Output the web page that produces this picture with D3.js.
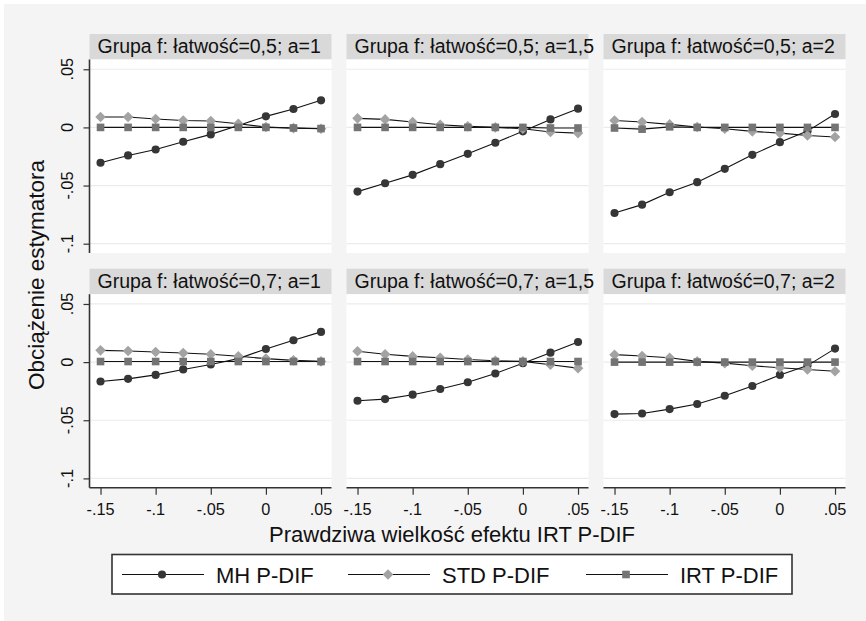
<!DOCTYPE html>
<html>
<head>
<meta charset="utf-8">
<script src="https://cdn.jsdelivr.net/npm/d3@7"></script>
<style>
  body { margin: 0; background: #fff; }
  svg { display: block; font-family: "Liberation Sans", Arial, sans-serif; }
</style>
</head>
<body>
<svg id="chart" width="866" height="621"></svg>
<script>
// values
const xValues = [-0.15, -0.125, -0.1, -0.075, -0.05, -0.025, 0, 0.025, 0.05];
const xTicks = [-0.15, -0.1, -0.05, 0, 0.05];
const xTickLabels = ['-.15', '-.1', '-.05', '0', '.05'];
const yTicks = [0.05, 0, -0.05, -0.1];
const yTickLabels = ['.05', '0', '-.05', '-.1'];

const panelTitles = [
    'Grupa f: łatwość=0,5; a=1',
    'Grupa f: łatwość=0,5; a=1,5',
    'Grupa f: łatwość=0,5; a=2',
    'Grupa f: łatwość=0,7; a=1',
    'Grupa f: łatwość=0,7; a=1,5',
    'Grupa f: łatwość=0,7; a=2'
];

const mhDIF = [
    [-0.0304, -0.0241, -0.019, -0.0123, -0.006, 0.0017, 0.0095, 0.0158, 0.0233],
    [-0.0552, -0.048, -0.0408, -0.0316, -0.0227, -0.0132, -0.0034, 0.0069, 0.0161],
    [-0.0736, -0.0664, -0.0558, -0.0471, -0.0356, -0.0236, -0.0127, -0.0032, 0.0115],
    [-0.0167, -0.0144, -0.011, -0.0063, -0.002, 0.003, 0.0113, 0.0188, 0.026],
    [-0.0332, -0.0318, -0.028, -0.0231, -0.0173, -0.0098, -0.0009, 0.0081, 0.0173],
    [-0.0447, -0.0442, -0.0404, -0.036, -0.0289, -0.0205, -0.011, -0.003, 0.0116]
];
const stdDIF = [
    [0.0089, 0.0089, 0.0072, 0.006, 0.0055, 0.0032, 0.0003, -0.0006, -0.0011],
    [0.0078, 0.0069, 0.0046, 0.0023, 0.0009, 0, -0.0011, -0.004, -0.0049],
    [0.006, 0.0046, 0.0026, 0.0003, -0.0011, -0.0034, -0.0049, -0.0069, -0.0083],
    [0.0101, 0.0095, 0.0087, 0.0078, 0.0067, 0.005, 0.003, 0.0015, 0.0006],
    [0.0093, 0.0067, 0.0049, 0.0038, 0.0023, 0.0012, 0.0006, -0.0023, -0.0052],
    [0.0064, 0.0052, 0.0038, 0.0006, -0.0009, -0.0031, -0.0049, -0.0063, -0.0078]
];
const irtDIF = [
    [0, 0, 0, 0, 0, 0, 0, -0.0005, -0.001],
    [0, 0, 0, 0, 0, 0, 0, -0.0005, -0.0005],
    [-0.0005, -0.0015, 0.0005, 0, 0, 0, 0, 0, 0],
    [0.0005, 0.0005, 0.0005, 0.0005, 0.0005, 0.0005, 0.0005, 0.0005, 0.0005],
    [0.0005, 0.0005, 0.0005, 0.0005, 0.0005, 0.0005, 0.0005, 0.0005, 0.0005],
    [0, 0, 0, 0, 0, 0, 0, 0, 0]
];

const seriesNames = ['MH P-DIF', 'STD P-DIF', 'IRT P-DIF'];

const svg = d3.select('#chart');

// outer background
svg.append('rect').attr('x', 4).attr('y', 4).attr('width', 862).attr('height', 617).attr('fill', '#f4f4f4');

const colLeft = [89.5, 346.5, 603.5];
const panelW = 242;
const rowTop = [34, 268.7];
const stripH = 25.5;
const plotH = 193.5;

// diamond as a square turned by 45 degrees (wider than d3.symbolDiamond)
const wideDiamond = {
    draw(ctx, size) {
        const r = Math.sqrt(size / 2);
        ctx.moveTo(0, -r);
        ctx.lineTo(r, 0);
        ctx.lineTo(0, r);
        ctx.lineTo(-r, 0);
        ctx.closePath();
    }
};

const series = [
    { name: seriesNames[0], data: mhDIF, fill: '#363636', shape: d3.symbolCircle, size: 52 },
    { name: seriesNames[1], data: stdDIF, fill: '#a3a3a3', shape: wideDiamond, size: 56 },
    { name: seriesNames[2], data: irtDIF, fill: '#747474', shape: d3.symbolSquare, size: 58 }
];

panelTitles.forEach((title, i) => {
    const row = Math.floor(i / 3), col = i % 3;
    const left = colLeft[col];
    const top = rowTop[row] + stripH;
    const bottom = top + plotH;

    const x = d3.scaleLinear().domain([-0.16, 0.0595]).range([left, left + panelW]);
    const y = d3.scaleLinear().domain([-0.108, 0.0584]).range([bottom, top]);

    const g = svg.append('g');

    // strip
    g.append('rect')
        .attr('x', left).attr('y', rowTop[row])
        .attr('width', panelW).attr('height', stripH)
        .attr('fill', '#d9d9d9');
    g.append('text')
        .attr('x', left + 8).attr('y', rowTop[row] + 19.3)
        .attr('font-size', '19.5px').attr('fill', '#111')
        .text(title);

    // plot region
    g.append('rect')
        .attr('x', left).attr('y', top)
        .attr('width', panelW).attr('height', plotH)
        .attr('fill', '#fff');

    g.selectAll('.grid').data(yTicks).enter().append('line')
        .attr('x1', left).attr('x2', left + panelW)
        .attr('y1', d => y(d)).attr('y2', d => y(d))
        .attr('stroke', '#ebebeb').attr('stroke-width', 1.2);

    // y axis on first column
    if (col === 0) {
        const ya = g.append('g')
            .attr('transform', `translate(${left},0)`)
            .call(d3.axisLeft(y).tickValues(yTicks).tickSize(6).tickFormat(''));
        ya.select('.domain').attr('d', `M0,${top}V${bottom}`).attr('stroke', '#333').attr('stroke-width', 1.6);
        ya.selectAll('.tick line').attr('stroke', '#333').attr('stroke-width', 1.2);
        yTicks.forEach((t, k) => {
            g.append('text')
                .attr('transform', `translate(${left - 16.5},${y(t)}) rotate(-90)`)
                .attr('text-anchor', 'middle')
                .attr('font-size', '16.3px').attr('fill', '#111')
                .text(yTickLabels[k]);
        });
    }

    // x axis on bottom row
    if (row === 1) {
        const xa = g.append('g')
            .attr('transform', `translate(0,${bottom})`)
            .call(d3.axisBottom(x).tickValues(xTicks).tickSize(7).tickFormat(''));
        xa.select('.domain').attr('d', `M${left},0H${left + panelW}`).attr('stroke', '#333').attr('stroke-width', 1.6);
        xa.selectAll('.tick line').attr('stroke', '#333').attr('stroke-width', 1.2);
        xTicks.forEach((t, k) => {
            g.append('text')
                .attr('x', x(t)).attr('y', bottom + 27.5)
                .attr('text-anchor', 'middle')
                .attr('font-size', '16.3px').attr('fill', '#111')
                .text(xTickLabels[k]);
        });
    }

    // series
    series.forEach(s => {
        const vals = s.data[i];
        const line = d3.line().x((d, k) => x(xValues[k])).y(d => y(d));
        g.append('path')
            .datum(vals)
            .attr('fill', 'none').attr('stroke', '#111').attr('stroke-width', 1.1)
            .attr('d', line);
        g.selectAll(null).data(vals).enter().append('path')
            .attr('transform', (d, k) => `translate(${x(xValues[k])},${y(d)})`)
            .attr('d', d3.symbol().type(s.shape).size(s.size))
            .attr('fill', s.fill);
    });
});

// axis titles
svg.append('text')
    .attr('transform', 'translate(44,275) rotate(-90)')
    .attr('text-anchor', 'middle')
    .attr('font-size', '22.5px').attr('fill', '#111')
    .text('Obciążenie estymatora');

svg.append('text')
    .attr('x', 452).attr('y', 541.5)
    .attr('text-anchor', 'middle')
    .attr('font-size', '22px').attr('fill', '#111')
    .text('Prawdziwa wielkość efektu IRT P-DIF');

// legend
const legend = svg.append('g');
legend.append('rect')
    .attr('x', 112).attr('y', 554.5).attr('width', 680).attr('height', 39.5)
    .attr('fill', '#fff').attr('stroke', '#333').attr('stroke-width', 1.6);

const legendX = [122, 348, 586];
series.forEach((s, k) => {
    const lx = legendX[k];
    const ly = 574.5;
    legend.append('line')
        .attr('x1', lx).attr('x2', lx + 82).attr('y1', ly).attr('y2', ly)
        .attr('stroke', '#111').attr('stroke-width', 1.1);
    legend.append('path')
        .attr('transform', `translate(${lx + 40},${ly})`)
        .attr('d', d3.symbol().type(s.shape).size(s.size))
        .attr('fill', s.fill);
    legend.append('text')
        .attr('x', lx + 94).attr('y', ly + 8)
        .attr('font-size', '22px').attr('fill', '#111')
        .text(s.name);
});
</script>
</body>
</html>
